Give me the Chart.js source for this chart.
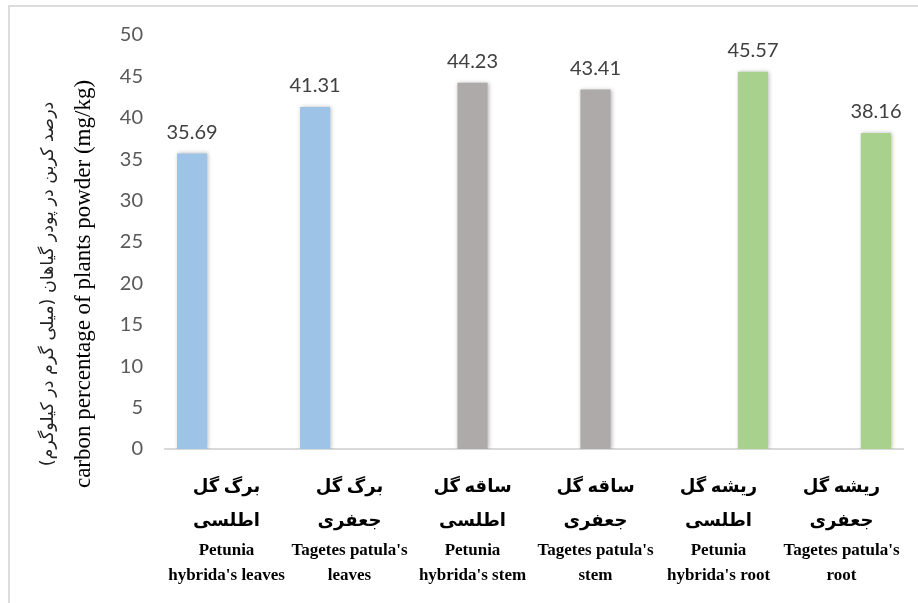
<!DOCTYPE html>
<html>
<head>
<meta charset="utf-8">
<script src="https://cdn.jsdelivr.net/npm/chart.js@4.4.1/dist/chart.umd.min.js"></script>
<style>
  html, body { margin:0; padding:0; background:#fff; overflow:hidden; }
  #wrap { position:relative; width:918px; height:603px; }
  #frame { position:absolute; left:8px; top:5px; width:1000px; height:700px; border:2px solid #dcdcdc; box-sizing:border-box; pointer-events:none; }
  canvas { position:absolute; left:0; top:0; }
</style>
</head>
<body>
<div id="wrap">
  <canvas id="chart" width="918" height="603"></canvas>
  <div id="frame"></div>
</div>
<script>
// ── data ──
const faLine1 = ['برگ گل', 'برگ گل', 'ساقه گل', 'ساقه گل', 'ریشه گل', 'ریشه گل'];
const faLine2 = ['اطلسی', 'جعفری', 'اطلسی', 'جعفری', 'اطلسی', 'جعفری'];
const enLine1 = ['Petunia', "Tagetes patula's", 'Petunia', "Tagetes patula's", 'Petunia', "Tagetes patula's"];
const enLine2 = ["hybrida's leaves", 'leaves', "hybrida's stem", 'stem', "hybrida's root", 'root'];

const leaves = [35.69, 41.31, null, null, null, null];
const stem   = [null, null, 44.23, 43.41, null, null];
const root   = [null, null, null, null, 45.57, 38.16];

const yTicks = [0, 5, 10, 15, 20, 25, 30, 35, 40, 45, 50];

const yTitleFa = 'درصد کربن در پودر گیاهان (میلی گرم در کیلوگرم)';
const yTitleEn = 'carbon percentage of plants powder (mg/kg)';

const colors = { leaves:'#9dc3e6', stem:'#aeaaaa', root:'#a9d18e' };

// value labels above each bar
const valueLabels = {
  id: 'valueLabels',
  afterDatasetsDraw(chart) {
    const ctx = chart.ctx;
    ctx.save();
    ctx.font = '20px Lato, "Liberation Sans", sans-serif';
    ctx.fillStyle = '#404040';
    ctx.textAlign = 'center';
    ctx.textBaseline = 'bottom';
    chart.data.datasets.forEach((ds, di) => {
      chart.getDatasetMeta(di).data.forEach((bar, i) => {
        const v = ds.data[i];
        if (v == null) return;
        ctx.fillText(v.toFixed(2), bar.x, bar.y - 11);
      });
    });
    ctx.restore();
  }
};

// soft shadow like the office chart
const barShadow = {
  id: 'barShadow',
  beforeDatasetsDraw(chart) {
    const ctx = chart.ctx;
    ctx.save();
    ctx.shadowColor = 'rgba(0,0,0,0.28)';
    ctx.shadowBlur = 4;
    ctx.shadowOffsetX = 1;
    ctx.shadowOffsetY = 0;
  },
  afterDatasetsDraw(chart) { chart.ctx.restore(); }
};

// category labels (Persian + English) and the two-line y title
const axisText = {
  id: 'axisText',
  afterDraw(chart) {
    const ctx = chart.ctx;
    const xs = chart.scales.x;
    ctx.save();
    ctx.fillStyle = '#000';
    ctx.textAlign = 'center';
    ctx.textBaseline = 'middle';
    faLine1.forEach((_, i) => {
      const x = xs.getPixelForValue(i);
      ctx.font = 'bold 18px "Liberation Serif", "DejaVu Sans", serif';
      ctx.fillText(faLine1[i], x, 487);
      ctx.fillText(faLine2[i], x, 521);
      ctx.font = 'bold 17px "Liberation Serif", serif';
      ctx.fillText(enLine1[i], x, 551);
      ctx.fillText(enLine2[i], x, 576);
    });
    const yc = 284;
    ctx.translate(0, yc);
    ctx.rotate(-Math.PI / 2);
    ctx.fillStyle = '#222';
    ctx.font = '17.5px "DejaVu Sans", sans-serif';
    ctx.fillText(yTitleFa, 0, 48);
    ctx.fillStyle = '#000';
    ctx.font = '23px "Liberation Serif", serif';
    ctx.fillText(yTitleEn, 0, 84);
    ctx.restore();
  }
};

new Chart(document.getElementById('chart').getContext('2d'), {
  type: 'bar',
  data: {
    labels: enLine2,
    datasets: [
      { label:'leaves', data:leaves, backgroundColor:colors.leaves },
      { label:'stem',   data:stem,   backgroundColor:colors.stem },
      { label:'root',   data:root,   backgroundColor:colors.root },
    ],
  },
  options: {
    responsive: false,
    animation: false,
    categoryPercentage: 0.84,
    barPercentage: 0.875,
    layout: { padding: { top: 35, right: 15, left: 0, bottom: 0 } },
    scales: {
      x: {
        grid: { display:false },
        border: { display:true, color:'#d9d9d9', width:2 },
        ticks: { display:false },
        afterFit: s => { s.height = 154; },
      },
      y: {
        min: 0, max: 50,
        afterBuildTicks: s => { s.ticks = yTicks.map(v => ({ value:v })); },
        grid: { display:false, drawTicks:false },
        border: { display:false },
        ticks: { color:'#595959', padding:22, font:{ family:'Lato, "Liberation Sans", sans-serif', size:20 } },
        afterFit: s => { s.width = 165; },
      },
    },
    plugins: { legend:{ display:false }, tooltip:{ enabled:false } },
  },
  plugins: [barShadow, valueLabels, axisText],
});
</script>
</body>
</html>
